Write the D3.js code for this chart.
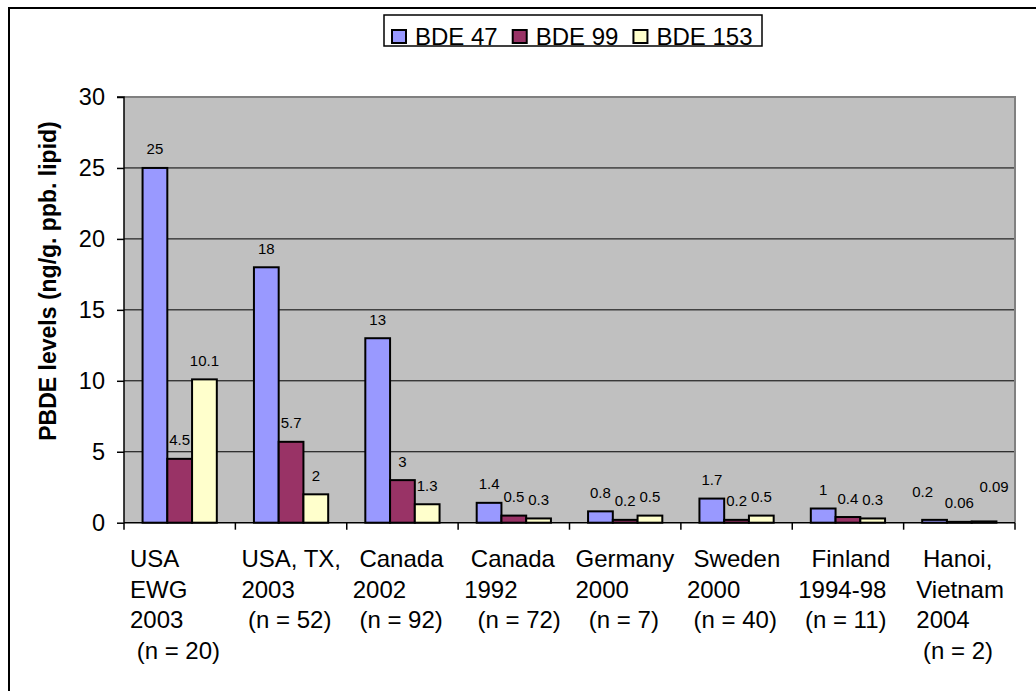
<!DOCTYPE html>
<html>
<head>
<meta charset="utf-8">
<script src="https://cdn.jsdelivr.net/npm/d3@7"></script>
<style>
  body { margin: 0; background: #fff; }
  text { font-family: "Liberation Sans", Arial, sans-serif; }
</style>
</head>
<body>
<svg id="chart" width="1036" height="691"></svg>
<script>
// ---- data ----
const categories = [
  ["USA", "EWG", "2003", " (n = 20)"],
  ["USA, TX,", "2003", " (n = 52)"],
  [" Canada", "2002", " (n = 92)"],
  [" Canada", "1992", "  (n = 72)"],
  ["Germany", "2000", "  (n = 7)"],
  [" Sweden", "2000", " (n = 40)"],
  ["  Finland", "1994-98", " (n = 11)"],
  ["  Hanoi,", " Vietnam", " 2004", "  (n = 2)"]
];
const seriesNames = ["BDE 47", "BDE 99", "BDE 153"];
const bde47  = [25, 18, 13, 1.4, 0.8, 1.7, 1, 0.2];
const bde99  = [4.5, 5.7, 3, 0.5, 0.2, 0.2, 0.4, 0.06];
const bde153 = [10.1, 2, 1.3, 0.3, 0.5, 0.5, 0.3, 0.09];
const yTicks = [0, 5, 10, 15, 20, 25, 30];
const yTitle = "PBDE levels (ng/g. ppb. lipid)";

// ---- style / layout ----
const colors = ["#9999FF", "#993366", "#FFFFCC"];
const L = 124, R = 1015, T = 97, B = 522.7;
// manual label nudges (as in the original, for the crowded last group)
const labelNudge = { "7-0": [-12, -9], "7-2": [10, -16] };

const svg = d3.select("#chart");
const series = [bde47, bde99, bde153];

// outer frame (only top/left visible)
svg.append("rect").attr("x", 9).attr("y", 8).attr("width", 1060).attr("height", 720)
  .attr("fill", "none").attr("stroke", "#000").attr("stroke-width", 2);

const x0 = d3.scaleBand().domain(d3.range(categories.length)).range([L, R]).paddingInner(0).paddingOuter(0);
const x1 = d3.scaleBand().domain(d3.range(series.length)).range([0, x0.bandwidth()]).paddingInner(0).paddingOuter(0.75);
const y = d3.scaleLinear().domain([0, 30]).range([B, T]);

// plot background
svg.append("rect").attr("x", L).attr("y", T).attr("width", R - L).attr("height", B - T)
  .attr("fill", "#C0C0C0");

// gridlines
svg.append("g").selectAll("line").data(yTicks.filter(t => t > 0 && t < 30)).join("line")
  .attr("x1", L).attr("x2", R).attr("y1", d => y(d)).attr("y2", d => y(d))
  .attr("stroke", "#000").attr("stroke-width", 1);

// plot border (top/right grey)
svg.append("path").attr("d", `M${L},${T}H${R}V${B}`).attr("fill", "none")
  .attr("stroke", "#808080").attr("stroke-width", 2);

// bars
const barData = [];
series.forEach((s, si) => s.forEach((v, ci) => barData.push({ si, ci, v })));
svg.append("g").selectAll("rect").data(barData).join("rect")
  .attr("x", d => x0(d.ci) + x1(d.si))
  .attr("y", d => y(d.v))
  .attr("width", x1.bandwidth())
  .attr("height", d => y(0) - y(d.v))
  .attr("fill", d => colors[d.si])
  .attr("stroke", "#000").attr("stroke-width", 2);

// value labels
svg.append("g").selectAll("text").data(barData).join("text")
  .attr("x", d => x0(d.ci) + x1(d.si) + x1.bandwidth() / 2 + ((labelNudge[d.ci + "-" + d.si] || [0, 0])[0]))
  .attr("y", d => y(d.v) - 13.5 + ((labelNudge[d.ci + "-" + d.si] || [0, 0])[1]))
  .attr("text-anchor", "middle").attr("font-size", 15).attr("fill", "#000")
  .text(d => d.v);

// y axis
const yAxis = d3.axisLeft(y).tickValues(yTicks).tickSize(7).tickPadding(12).tickFormat(d3.format("d"));
const gy = svg.append("g").attr("transform", `translate(${L},0)`).call(yAxis);
gy.select(".domain").attr("stroke", "#000").attr("stroke-width", 1.5).attr("d", `M-7,${T}H0V${B}`);
gy.selectAll(".tick line").attr("stroke", "#000").attr("stroke-width", 1.5);
gy.selectAll(".tick text").attr("font-size", 23.5).attr("font-family", "Liberation Sans, Arial, sans-serif").attr("fill", "#000");

// x axis
svg.append("line").attr("x1", L).attr("x2", R).attr("y1", B).attr("y2", B)
  .attr("stroke", "#000").attr("stroke-width", 1.5);
const boundaries = d3.range(categories.length + 1).map(i => i < categories.length ? x0(i) : R);
svg.append("g").selectAll("line").data(boundaries).join("line")
  .attr("x1", d => d).attr("x2", d => d).attr("y1", B).attr("y2", B + 7)
  .attr("stroke", "#000").attr("stroke-width", 1.5);

// category labels
const lab = svg.append("g");
categories.forEach((lines, ci) => {
  const t = lab.append("text").attr("font-size", 24).attr("fill", "#000")
    .attr("xml:space", "preserve").style("white-space", "pre");
  lines.forEach((ln, li) => {
    t.append("tspan").attr("x", x0(ci) + 6).attr("y", 567 + li * 30.5).text(ln);
  });
});

// y title
svg.append("text").attr("transform", `translate(56,281) rotate(-90)`)
  .attr("text-anchor", "middle").attr("font-size", 23).attr("font-weight", "bold")
  .attr("fill", "#000").text(yTitle);

// legend
const lg = svg.append("g");
lg.append("rect").attr("x", 384).attr("y", 15).attr("width", 378).attr("height", 31)
  .attr("fill", "#fff").attr("stroke", "#000").attr("stroke-width", 1.5);
let lx = 392;
seriesNames.forEach((name, i) => {
  lg.append("rect").attr("x", lx).attr("y", 30).attr("width", 14).attr("height", 13)
    .attr("fill", colors[i]).attr("stroke", "#000").attr("stroke-width", 2);
  const tt = lg.append("text").attr("x", lx + 23).attr("y", 44.5).attr("font-size", 24)
    .attr("fill", "#000").text(name);
  lx += 23 + tt.node().getComputedTextLength() + 15;
});
</script>
</body>
</html>
